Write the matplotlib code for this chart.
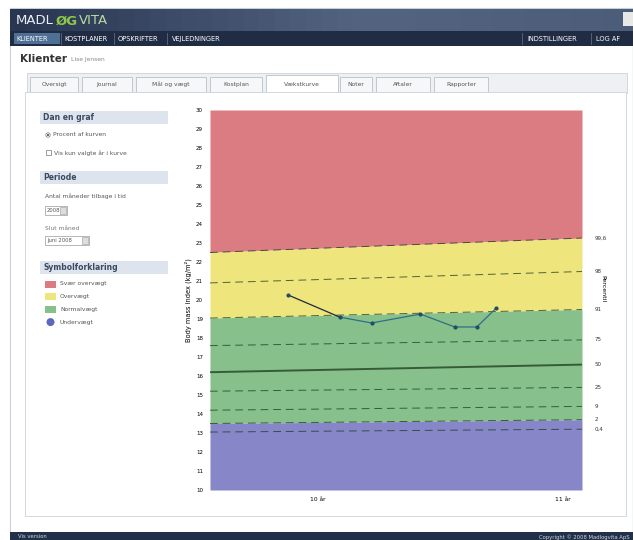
"""
Recreation of a MADLOGVITA screenshot: client page with a BMI growth chart
(percentile bands) and a sidebar with options and legend.
"""

import matplotlib.pyplot as plt
from matplotlib.patches import Rectangle, Circle

# ---- data -------------------------------------------------------------
# percentile curves (BMI, kg/m2) at the left and right edge of the chart
ages_edge = [9.56, 11.08]
percentiles = ['99,6', '98', '91', '75', '50', '25', '9', '2', '0,4']
p_left = [22.5, 20.9, 19.05, 17.6, 16.2, 15.2, 14.2, 13.5, 13.05]
p_right = [23.26, 21.5, 19.5, 17.9, 16.6, 15.4, 14.4, 13.7, 13.2]

# measured BMI of the client
ages = [9.88, 10.09, 10.22, 10.42, 10.56, 10.65, 10.73]
bmi = [20.26, 19.1, 18.79, 19.26, 18.58, 18.58, 19.58]

x_ticks = [10, 11]
x_labels = ['10 år', '11 år']
y_ticks = list(range(10, 31))

legend_labels = ['Svær overvægt', 'Overvægt', 'Normalvægt', 'Undervægt']
band_colors = ['#da7c82', '#eee57c', '#87c08b', '#8686c9']

nav_left = ['KLIENTER', 'KOSTPLANER', 'OPSKRIFTER', 'VEJLEDNINGER']
nav_right = ['INDSTILLINGER', 'LOG AF']
tabs = ['Oversigt', 'Journal', 'Mål og vægt', 'Kostplan', 'Vækstkurve',
        'Noter', 'Aftaler', 'Rapporter']


def draw_page(bg):
    """Draw the web page chrome in pixel coordinates."""
    bg.set_xlim(0, 633)
    bg.set_ylim(540, 0)
    bg.axis('off')

    # outer page frame
    bg.add_patch(Rectangle((10, 8), 630, 525, fc='#f4f6f8', ec='#c9cfd6',
                           lw=0.8))
    # header bar: dark navy on the left, steel blue towards the right
    n = 40
    for i in range(n):
        t = i / (n - 1)
        k = min(t * 1.8, 1) - 0.35 * max(t - 0.6, 0)
        c = (0.16 + 0.16 * k, 0.21 + 0.18 * k, 0.32 + 0.18 * k)
        bg.add_patch(Rectangle((10 + i * 623 / n, 9), 623 / n + 0.5, 22,
                               fc=c, ec='none'))
    bg.add_patch(Rectangle((10, 31), 623, 15, fc='#1f2c44', ec='none'))
    bg.add_patch(Rectangle((623, 12), 10, 14, fc='#e8e8e8', ec='none'))

    # logo
    bg.text(16, 21, 'MADL', color='#e8eef5', fontsize=9.5, va='center')
    bg.text(56, 21, 'ØG', color='#8fc64a', fontsize=9.5, va='center',
            fontweight='bold')
    bg.text(79, 21, 'VITA', color='#b9dba0', fontsize=9.5, va='center')

    # navigation
    bg.add_patch(Rectangle((14, 33), 46, 11, fc='#4f6f95', ec='none'))
    xs = [16, 64, 118, 172]
    for x, lab in zip(xs, nav_left):
        bg.text(x, 39, lab, color='white', fontsize=4.8, va='center')
    for x in [61, 114, 167]:
        bg.plot([x, x], [33, 44], color='#5b6b80', lw=0.6)
    bg.plot([522, 522], [33, 44], color='#5b6b80', lw=0.6)
    bg.plot([591, 591], [33, 44], color='#5b6b80', lw=0.6)
    bg.text(527, 39, nav_right[0], color='white', fontsize=4.8, va='center')
    bg.text(596, 39, nav_right[1], color='white', fontsize=4.8, va='center')

    # page title
    bg.add_patch(Rectangle((11, 46), 621, 486, fc='white', ec='none'))
    bg.text(20, 59, 'Klienter', fontsize=7.5, fontweight='bold',
            color='#333333', va='center')
    bg.text(71, 59.5, 'Lise Jensen', fontsize=4.3, color='#888888',
            va='center')

    # tab strip
    bg.add_patch(Rectangle((27, 73), 600, 20, fc='#eef1f4', ec='#cdd3da',
                           lw=0.6))
    tab_x = [30, 82, 136, 210, 266, 340, 376, 434]
    tab_w = [48, 50, 70, 52, 72, 32, 54, 54]
    for i, (x, w, lab) in enumerate(zip(tab_x, tab_w, tabs)):
        active = i == 4
        bg.add_patch(Rectangle((x, 77 if not active else 75), w,
                               15 if not active else 18,
                               fc='white' if active else '#f6f7f9',
                               ec='#b9c0c8', lw=0.6))
        bg.text(x + w / 2, 84.5, lab, fontsize=4.3, ha='center',
                va='center', color='#555555')

    # content panel
    bg.add_patch(Rectangle((25, 92), 601, 424, fc='white', ec='#d2d7dd',
                           lw=0.7))

    # sidebar headers
    for y, lab in [(111, 'Dan en graf'), (171, 'Periode'),
                   (261, 'Symbolforklaring')]:
        bg.add_patch(Rectangle((40, y), 128, 13, fc='#dde4ee', ec='none'))
        bg.text(43, y + 6.5, lab, fontsize=5.5, fontweight='bold',
                color='#3a4a60', va='center')

    bg.add_patch(Circle((48, 135), 2.2, fc='white', ec='#777777', lw=0.5))
    bg.add_patch(Circle((48, 135), 1.0, fc='#444444', ec='none'))
    bg.text(53, 135, 'Procent af kurven', fontsize=4.3, color='#555555',
            va='center')
    bg.add_patch(Rectangle((46, 150), 5, 5, fc='white', ec='#777777',
                           lw=0.5))
    bg.text(54, 153, 'Vis kun valgte år i kurve', fontsize=4.3,
            color='#555555', va='center')

    bg.text(45, 196, 'Antal måneder tilbage i tid', fontsize=4.3,
            color='#555555', va='center')
    bg.add_patch(Rectangle((45, 206), 22, 9, fc='white', ec='#999999',
                           lw=0.5))
    bg.text(47, 210.5, '2008', fontsize=3.8, color='#555555', va='center')
    bg.add_patch(Rectangle((60, 207), 6, 7, fc='#dddddd', ec='#999999',
                           lw=0.4))
    bg.text(45, 228, 'Slut måned', fontsize=4.3, color='#777777',
            va='center')
    bg.add_patch(Rectangle((45, 236), 44, 9, fc='white', ec='#999999',
                           lw=0.5))
    bg.text(47, 240.5, 'Juni 2008', fontsize=3.8, color='#555555',
            va='center')
    bg.add_patch(Rectangle((82, 237), 6, 7, fc='#dddddd', ec='#999999',
                           lw=0.4))

    # legend
    for i, (lab, col) in enumerate(zip(legend_labels, band_colors)):
        y = 284 + i * 12.7
        if i < 3:
            bg.add_patch(Rectangle((45, y - 3.5), 11, 7, fc=col, ec='none'))
        else:
            bg.add_patch(Circle((50.5, y), 4, fc='#5a68c0', ec='none'))
        bg.text(60, y, lab, fontsize=4.3, color='#555555', va='center')

    # footer
    bg.add_patch(Rectangle((10, 532), 623, 8, fc='#22304a', ec='none'))
    bg.text(18, 537, 'Vis version', fontsize=3.8, color='#cfd6df',
            va='center')
    bg.text(630, 537, 'Copyright © 2008 Madlogvita ApS', fontsize=3.8,
            color='#cfd6df', va='center', ha='right')


def draw_chart(ax):
    """Draw the BMI percentile chart."""
    lo, hi = 10, 30
    bounds = [[hi, hi],
              [p_left[0], p_right[0]],
              [p_left[2], p_right[2]],
              [p_left[7], p_right[7]],
              [lo, lo]]
    for i, col in enumerate(band_colors):
        ax.fill_between(ages_edge, bounds[i + 1], bounds[i], color=col,
                        lw=0)
    for k, (a, b) in enumerate(zip(p_left, p_right)):
        lw = 1.4 if percentiles[k] == '50' else 0.7
        ax.plot(ages_edge, [a, b], color='#1d3a1d', lw=lw, alpha=0.75,
                ls=(0, (8, 5)) if percentiles[k] != '50' else '-')
        ax.text(ages_edge[1] + 0.05, b, percentiles[k], fontsize=4,
                va='center', color='#333333')

    ax.plot(ages[:2], bmi[:2], color='#1c2a3a', lw=0.9)
    ax.plot(ages[1:], bmi[1:], color='#2f6f85', lw=0.9)
    ax.plot(ages, bmi, 'o', color='#1f4f66', ms=2)

    ax.set_xlim(ages_edge)
    ax.set_ylim(lo, hi)
    ax.set_xticks(x_ticks, x_labels, fontsize=4.3)
    ax.set_yticks(y_ticks, [str(v) for v in y_ticks], fontsize=4)
    ax.tick_params(length=0, pad=5)
    for s in ax.spines.values():
        s.set_visible(False)
    ax.set_ylabel('Body mass index (kg/m²)', fontsize=4.8, labelpad=3)
    ax.text(1.055, 0.53, 'Percentil', transform=ax.transAxes, rotation=270,
            fontsize=4.5, va='center', ha='center')


def main():
    fig = plt.figure(figsize=(6.33, 5.40), dpi=100)
    bg = fig.add_axes([0, 0, 1, 1])
    draw_page(bg)
    ax = fig.add_axes([210 / 633, 50 / 540, 372 / 633, 380 / 540])
    draw_chart(ax)
    fig.savefig('out.png', dpi=100)


if __name__ == '__main__':
    main()
